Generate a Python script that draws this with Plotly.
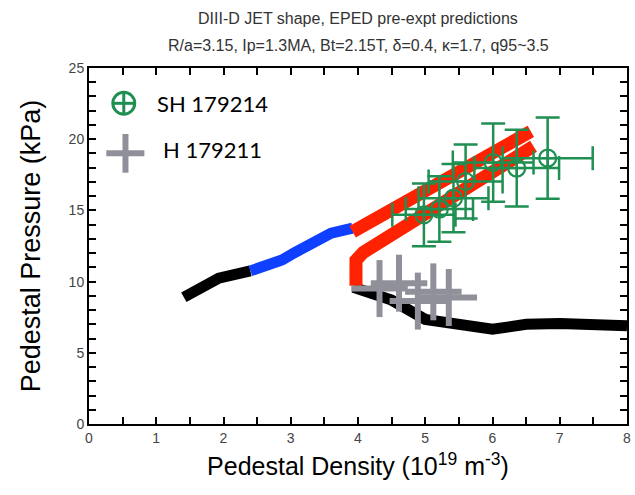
import plotly.graph_objects as go

# EPED prediction curves (density in 1e19 m^-3, pressure in kPa)
low_branch_x = [1.41, 1.93, 2.40]
low_branch_y = [8.90, 10.24, 10.75]

mid_branch_x = [2.40, 2.87, 3.06, 3.46, 3.60, 3.92]
mid_branch_y = [10.75, 11.52, 12.04, 13.16, 13.40, 13.75]

upper_red_x = [3.92, 4.80, 5.60, 6.57]
upper_red_y = [13.50, 15.90, 18.10, 20.55]

lower_red_x = [3.97, 3.97, 4.08, 5.00, 5.90, 6.61]
lower_red_y = [9.70, 11.50, 12.05, 14.70, 17.30, 19.50]

high_branch_x = [3.93, 4.50, 5.00, 5.50, 6.00, 6.50, 7.00, 8.00]
high_branch_y = [9.60, 8.70, 7.35, 7.00, 6.65, 7.00, 7.05, 6.90]

# SH 179214 measurements
sh_n = [4.98, 5.21, 5.42, 5.60, 6.01, 6.36, 6.82]
sh_p = [14.69, 15.09, 15.86, 17.03, 18.36, 17.97, 18.67]
sh_n_err = [0.47, 0.50, 0.52, 0.55, 0.60, 0.63, 0.67]
sh_p_err = [2.20, 2.30, 2.40, 2.60, 2.75, 2.70, 2.85]

# H 179211 measurements
h_n = [4.32, 4.61, 4.89, 5.12, 5.35]
h_p = [9.51, 9.89, 8.63, 9.28, 8.88]
h_n_err = [0.42, 0.42, 0.42, 0.42, 0.42]
h_p_err = [2.00, 2.00, 2.00, 2.00, 2.00]

title_lines = ["DIII-D JET shape, EPED pre-expt predictions",
               "R/a=3.15, Ip=1.3MA, Bt=2.15T, δ=0.4, κ=1.7, q95~3.5"]
legend_labels = ["SH 179214", "H 179211"]

GREEN = "#1f8f52"
GRAY = "#90909a"
RED = "#ff2200"
BLUE = "#1040ff"

fig = go.Figure()

fig.add_trace(go.Scatter(x=high_branch_x, y=high_branch_y, mode="lines",
                         line=dict(color="black", width=11), showlegend=False))
fig.add_trace(go.Scatter(x=low_branch_x, y=low_branch_y, mode="lines",
                         line=dict(color="black", width=11), showlegend=False))
fig.add_trace(go.Scatter(x=mid_branch_x, y=mid_branch_y, mode="lines",
                         line=dict(color=BLUE, width=11), showlegend=False))
fig.add_trace(go.Scatter(x=lower_red_x, y=lower_red_y, mode="lines",
                         line=dict(color=RED, width=13), showlegend=False))
fig.add_trace(go.Scatter(x=upper_red_x, y=upper_red_y, mode="lines",
                         line=dict(color=RED, width=13), showlegend=False))

fig.add_trace(go.Scatter(
    x=h_n, y=h_p, mode="markers",
    marker=dict(size=1, color=GRAY, opacity=0),
    error_x=dict(type="data", array=h_n_err, color=GRAY, thickness=6, width=0),
    error_y=dict(type="data", array=h_p_err, color=GRAY, thickness=6, width=0),
    showlegend=False))

fig.add_trace(go.Scatter(
    x=sh_n, y=sh_p, mode="markers",
    marker=dict(symbol="circle-cross-open", size=17, color=GREEN,
                line=dict(color=GREEN, width=2.2)),
    error_x=dict(type="data", array=sh_n_err, color=GREEN, thickness=2.5, width=12),
    error_y=dict(type="data", array=sh_p_err, color=GREEN, thickness=2.5, width=12),
    showlegend=False))

# Legend drawn in paper coordinates
shapes = [
    dict(type="circle", xref="paper", yref="paper", x0=0.0443, x1=0.0850,
         y0=0.870, y1=0.9317, line=dict(color=GREEN, width=3)),
    dict(type="line", xref="paper", yref="paper", x0=0.0443, x1=0.0850,
         y0=0.9008, y1=0.9008, line=dict(color=GREEN, width=3)),
    dict(type="line", xref="paper", yref="paper", x0=0.06465, x1=0.06465,
         y0=0.870, y1=0.9317, line=dict(color=GREEN, width=3)),
    dict(type="line", xref="paper", yref="paper", x0=0.0321, x1=0.1029,
         y0=0.7604, y1=0.7604, line=dict(color=GRAY, width=6)),
    dict(type="line", xref="paper", yref="paper", x0=0.0678, x1=0.0678,
         y0=0.7059, y1=0.8146, line=dict(color=GRAY, width=6)),
]

annotations = [
    dict(text=title_lines[0], xref="paper", yref="paper", x=0.5, y=1.1404,
         xanchor="center", yanchor="middle", showarrow=False,
         font=dict(size=16, color="#333333", family="Liberation Sans, Arial")),
    dict(text=title_lines[1], xref="paper", yref="paper", x=0.5, y=1.0646,
         xanchor="center", yanchor="middle", showarrow=False,
         font=dict(size=16, color="#333333", family="Liberation Sans, Arial")),
    dict(text=legend_labels[0], xref="paper", yref="paper", x=0.1232, y=0.9008,
         xanchor="left", yanchor="middle", showarrow=False,
         font=dict(size=22, color="black", family="Lato")),
    dict(text=legend_labels[1], xref="paper", yref="paper", x=0.1337, y=0.7697,
         xanchor="left", yanchor="middle", showarrow=False,
         font=dict(size=22, color="black", family="Lato")),
]

tick_style = dict(ticks="inside", ticklen=7, tickwidth=1.5, tickcolor="black")
axis_common = dict(
    showline=True, linecolor="black", linewidth=2, mirror=True,
    showgrid=False, zeroline=False,
    tickfont=dict(size=14, color="#444444", family="Liberation Sans, Arial"),
    **tick_style,
)

fig.update_layout(
    width=635, height=495,
    margin=dict(l=89, r=4, t=68, b=71),
    paper_bgcolor="white", plot_bgcolor="white",
    shapes=shapes, annotations=annotations,
    xaxis=dict(range=[0, 8], dtick=1, tick0=0,
               minor=dict(dtick=0.5, **tick_style),
               title=dict(text="Pedestal Density (10<sup>19</sup> m<sup>-3</sup>)",
                          font=dict(size=25, color="black", family="Liberation Sans, Arial"),
                          standoff=13),
               **axis_common),
    yaxis=dict(range=[0, 25], dtick=5, tick0=0,
               minor=dict(dtick=1, **tick_style),
               title=dict(text="Pedestal Pressure (kPa)",
                          font=dict(size=27, color="black", family="Liberation Sans, Arial"),
                          standoff=20),
               **axis_common),
    # opposite-side tick marks
    xaxis2=dict(overlaying="x", side="top", range=[0, 8], dtick=0.5, tick0=0,
                showticklabels=False, showgrid=False, zeroline=False, **tick_style),
    yaxis2=dict(overlaying="y", side="right", range=[0, 25], dtick=1, tick0=0,
                showticklabels=False, showgrid=False, zeroline=False, **tick_style),
)

# an empty trace so the opposite-side axes are rendered
fig.add_trace(go.Scatter(x=[], y=[], xaxis="x2", yaxis="y2", showlegend=False))

fig.write_html("out.html")
